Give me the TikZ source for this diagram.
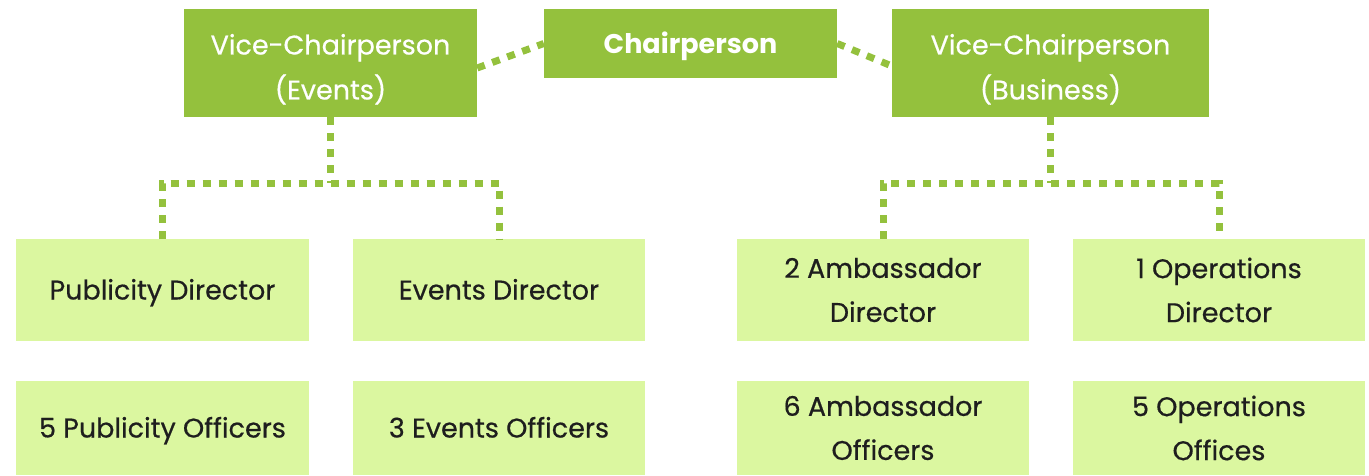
\documentclass[tikz,border=0pt]{standalone}
\usepackage{fontspec}
\setmainfont{Poppins}
\newfontfamily\medfont{Poppins}[FakeBold=0.5]
\definecolor{dg}{RGB}{148,193,61}
\definecolor{lg}{RGB}{219,247,160}
\definecolor{tx}{RGB}{30,30,30}
\newcommand{\upstrut}{\rule{0pt}{33pt}}
\newcommand{\onestrut}{\rule[-8pt]{0pt}{35pt}}
\begin{document}
\begin{tikzpicture}[x=1pt,y=-1pt,
 topbox/.style={fill=dg,text=white,inner sep=0pt,align=center,font=\fontsize{27}{45}\medfont},
 subbox/.style={fill=lg,text=tx,inner sep=0pt,align=center,font=\fontsize{27}{44}\medfont},
 dotline/.style={draw=dg,line width=7pt,dash pattern=on 8pt off 8pt}]
\useasboundingbox (0,0) rectangle (1369,475);
\node[topbox,minimum width=293pt,minimum height=108pt] (vce) at (330.5,63) {\upstrut Vice-Chairperson\\(Events)};
\node[topbox,minimum width=293pt,minimum height=69pt,font=\fontsize{27}{44}\selectfont\bfseries] (ch) at (690.5,43.5) {\onestrut Chairperson};
\node[topbox,minimum width=317pt,minimum height=108pt] (vcb) at (1050.5,63) {\upstrut Vice-Chairperson\\(Business)};
\node[subbox,minimum width=293pt,minimum height=102pt] (pd) at (162.5,290) {\onestrut Publicity Director};
\node[subbox,minimum width=292pt,minimum height=102pt] (ed) at (499,290) {\onestrut Events Director};
\node[subbox,minimum width=292pt,minimum height=102pt] (ad) at (883,290) {2 Ambassador\\Director};
\node[subbox,minimum width=292pt,minimum height=102pt] (od) at (1219,290) {1 Operations\\Director};
\node[subbox,minimum width=293pt,minimum height=94pt] (po) at (162.5,428) {\onestrut 5 Publicity Officers};
\node[subbox,minimum width=292pt,minimum height=94pt] (eo) at (499,428) {\onestrut 3 Events Officers};
\node[subbox,minimum width=292pt,minimum height=94pt] (ao) at (883,428) {6 Ambassador\\Officers};
\node[subbox,minimum width=292pt,minimum height=94pt] (oo) at (1219,428) {5 Operations\\Offices};
\coordinate (je) at (330.5,183);
\coordinate (jb) at (1050.5,183);
\draw[dotline] (vce.south) -- (je);
\draw[dotline] (pd.north) |- (je) -| (ed.north);
\draw[dotline] (vcb.south) -- (jb);
\draw[dotline] (ad.north) |- (jb) -| (od.north);
\draw[dotline] ([yshift=-5pt]vce.east) -- (ch.west);
\draw[dotline] (ch.east) -- ([yshift=-3pt]vcb.west);
\end{tikzpicture}
\end{document}
